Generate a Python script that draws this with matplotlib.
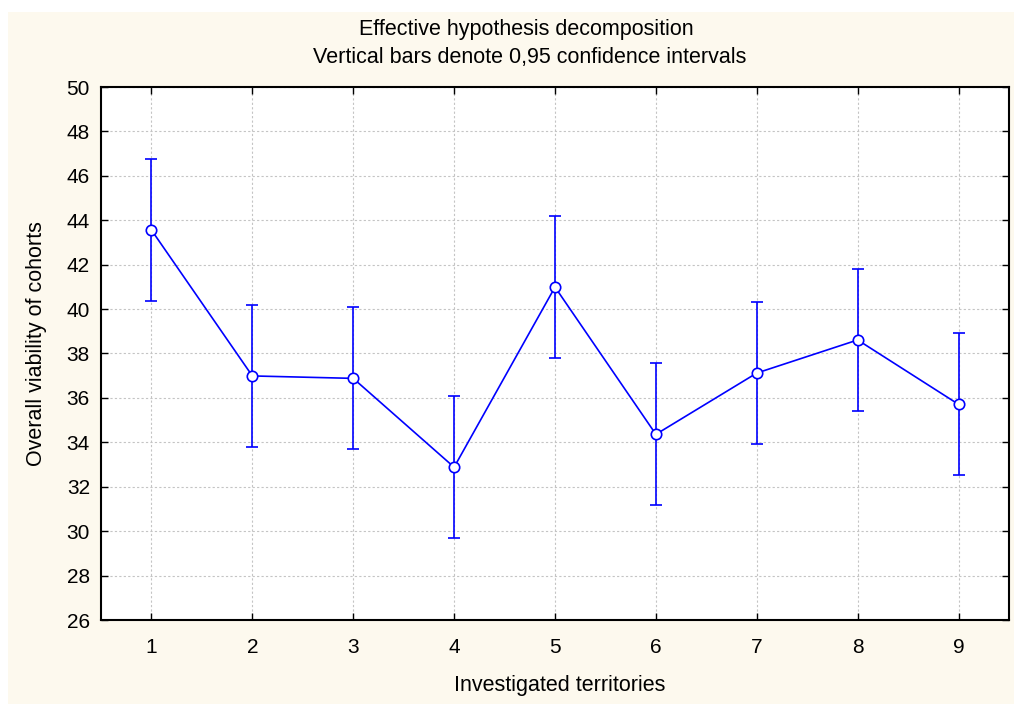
import numpy as np
import matplotlib
matplotlib.use("Agg")
import matplotlib.pyplot as plt
from matplotlib.patches import Rectangle

plt.rcParams['font.family'] = ['Liberation Sans', 'DejaVu Sans']

territories = [1, 2, 3, 4, 5, 6, 7, 8, 9]
means = [43.56, 36.99, 36.88, 32.88, 40.99, 34.36, 37.12, 38.61, 35.71]
ci_half = [3.20, 3.20, 3.20, 3.20, 3.21, 3.20, 3.21, 3.20, 3.20]
yticks = [26, 28, 30, 32, 34, 36, 38, 40, 42, 44, 46, 48, 50]

title1 = "Effective hypothesis decomposition"
title2 = "Vertical bars denote 0,95 confidence intervals"

fig = plt.figure(figsize=(10.14, 7.04), dpi=100, facecolor='white')
# cream panel behind the chart, leaving a thin white strip top and left
fig.patches.append(Rectangle((8/1014, 0), 1 - 8/1014, 1 - 12/704,
                             transform=fig.transFigure, facecolor='#fdf9ee',
                             edgecolor='none', zorder=-10))

ax = fig.add_axes([101/1014, 1 - 620/704, (1009-101)/1014, (620-87)/704])
ax.set_facecolor('white')

ax.errorbar(territories, means, yerr=ci_half, color='#0000ff', lw=1.2,
            marker='o', markersize=7.5, markerfacecolor='white',
            markeredgecolor='#0000ff', markeredgewidth=1.2,
            capsize=4.5, capthick=1.2, elinewidth=1.2, zorder=3)

ax.set_xlim(0.5, 9.5)
ax.set_ylim(26, 50)
ax.set_xticks(territories)
ax.set_yticks(yticks)
ax.grid(True, color='#c4c4c4', linestyle=(0, (2, 2)), linewidth=0.8, zorder=0)
ax.tick_params(direction='in', top=True, right=True, length=5, width=1,
               labelsize=15, pad=8)
ax.tick_params(axis='x', pad=13)
for s in ax.spines.values():
    s.set_linewidth(1.5)
    s.set_color('black')

fig.text(560/1014, 1 - 686/704, "Investigated territories",
         ha='center', va='center', fontsize=15.5)
fig.text(37/1014, 1 - 344/704, "Overall viability of cohorts",
         ha='center', va='center', rotation=90, fontsize=15.5)

fig.text(526/1014, 1 - 29/704, title1, ha='center', va='center', fontsize=15.5)
fig.text(530/1014, 1 - 57/704, title2, ha='center', va='center', fontsize=15.5)

fig.savefig("out.png", dpi=100, facecolor=fig.get_facecolor())
